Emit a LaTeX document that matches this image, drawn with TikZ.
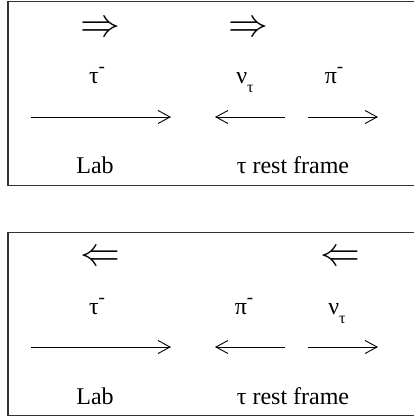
\documentclass[tikz,border=0pt]{standalone}
\usepackage{fontspec}
\setmainfont{Liberation Serif}
\usetikzlibrary{arrows.meta}
\newcommand{\supm}{\raisebox{11pt}{\fontsize{19}{19}\selectfont -}}
\newcommand{\subt}{\raisebox{-9pt}{\fontsize{16}{16}\selectfont τ}}

\begin{document}
\begin{tikzpicture}[x=1pt,y=-1pt,every node/.style={font=\fontsize{24}{28}\selectfont,anchor=base,inner sep=0pt},
  mom/.style={line width=0.9pt,-{Straight Barb[length=12pt,width=13pt,line width=0.9pt]}},
  frame/.style={line width=1.4pt,black!80}]
\useasboundingbox (0,0) rectangle (414,418);
\clip (0,0) rectangle (414,418);
% upper panel
\draw[frame] (8,1.5) rectangle (430,185.5);
\node (spinA) at (100,36) {\scalebox{1.6}{$\Rightarrow$}};
\node (spinB) at (248,36) {\scalebox{1.6}{$\Rightarrow$}};
\node (tauA) at (97,83) {τ\supm};
\node (nuA) at (245,83) {ν\subt};
\node (piA) at (334,83) {π\supm};
\coordinate (a1) at (31,117);  \coordinate (a2) at (171,117);
\coordinate (b1) at (285,117); \coordinate (b2) at (215,117);
\coordinate (c1) at (308,117); \coordinate (c2) at (378,117);
\draw[mom] (a1) -- (a2);
\draw[mom] (b1) -- (b2);
\draw[mom] (c1) -- (c2);
\node (labA) at (95,173) {Lab};
\node (restA) at (293,173) {τ rest frame};
% lower panel
\draw[frame] (8,232.5) rectangle (430,415.5);
\node (spinC) at (100,265) {\scalebox{1.6}{$\Leftarrow$}};
\node (spinD) at (340,265) {\scalebox{1.6}{$\Leftarrow$}};
\node (tauB) at (97,314) {τ\supm};
\node (piB) at (244,314) {π\supm};
\node (nuB) at (337,314) {ν\subt};
\coordinate (d1) at (31,347);  \coordinate (d2) at (171,347);
\coordinate (e1) at (285,347); \coordinate (e2) at (215,347);
\coordinate (f1) at (308,347); \coordinate (f2) at (378,347);
\draw[mom] (d1) -- (d2);
\draw[mom] (e1) -- (e2);
\draw[mom] (f1) -- (f2);
\node (labB) at (95,404) {Lab};
\node (restB) at (293,404) {τ rest frame};
\end{tikzpicture}
\end{document}
